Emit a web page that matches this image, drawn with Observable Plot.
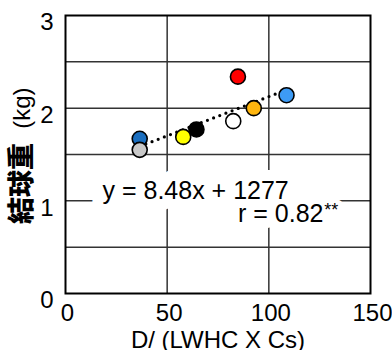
<!DOCTYPE html>
<html>
<head>
<meta charset="utf-8">
<script src="https://cdn.jsdelivr.net/npm/d3@7"></script>
<script src="https://cdn.jsdelivr.net/npm/@observablehq/plot@0.6"></script>
<style>
  html, body { margin: 0; padding: 0; background: white; }
</style>
</head>
<body>
<div id="chart"></div>
<script>
// ---- data ----
const cultivars = ["A", "B", "C", "D", "E", "F", "G", "H"];
const xValues = [36.5, 36.5, 64.4, 57.9, 82.5, 84.8, 92.6, 108.7];
const yValues = [1.67, 1.55, 1.77, 1.69, 1.86, 2.34, 2.00, 2.14];
const regSlope = 8.48;      // g per unit
const regIntercept = 1277;  // g
const eqLabel = "y = 8.48x + 1277";
const rLabel = "r = 0.82";
const sigLabel = "**";
const xTicks = [0, 50, 100, 150];
const yTicks = [0, 1, 2, 3];
const xGrid = [50, 100];
const yGrid = [0.5, 1, 1.5, 2, 2.5];
const xLabel = "D/ (LWHC X Cs)";
const yLabelMain = "結球重";
const yLabelUnit = "(kg)";

const points = cultivars.map((c, i) => ({c, x: xValues[i], y: yValues[i]}));
const xMin = d3.min(xValues), xMax = d3.max(xValues);
const regLine = [xMin, xMax].map(x => ({x, y: (regSlope * x + regIntercept) / 1000}));

const font = "Liberation Sans, Arial, sans-serif";

// annotation text marks: halo pass (white) and ink pass (black)
const eqOpts = {x: 18.2, y: 1.025, textAnchor: "start", lineAnchor: "bottom", fontSize: 25};
const rOpts = {x: 126.9, y: 0.77, textAnchor: "end", lineAnchor: "bottom", fontSize: 25};
const sigOpts = {x: 127.3, y: 0.77, dy: -6, textAnchor: "start", lineAnchor: "bottom", fontSize: 18};
const halo = {fill: "white", stroke: "white", strokeLinejoin: "round"};

const chart = Plot.plot({
  width: 392,
  height: 350,
  marginLeft: 65,
  marginRight: 22,
  marginTop: 15,
  marginBottom: 57,
  style: {fontFamily: font, fontSize: "24px", background: "white", color: "black"},
  x: {domain: [0, 150]},
  y: {domain: [0, 3]},
  color: {domain: cultivars, range: ["#1a6ebf", "#c8c8c8", "#000000", "#ffff00", "#ffffff", "#ff0000", "#ffb60f", "#3d9bf5"]},
  marks: [
    Plot.gridY(yGrid, {stroke: "#333", strokeOpacity: 1, strokeWidth: 1.5}),
    Plot.gridX(xGrid, {stroke: "#333", strokeOpacity: 1, strokeWidth: 1.5}),
    Plot.frame({stroke: "black", strokeWidth: 2}),
    Plot.axisY(yTicks, {tickSize: 0, tickPadding: 12, dy: 7, fontSize: 24, label: null, tickFormat: d => String(d)}),
    Plot.axisX(xTicks, {tickSize: 0, tickPadding: 10, dx: 2, fontSize: 24, label: null, tickFormat: d => String(d)}),
    Plot.text([xLabel], {frameAnchor: "bottom", dy: 54, fontSize: 24, fill: "black"}),
    Plot.text([yLabelUnit], {x: () => -21, y: () => 2.0, rotate: -90, fontSize: 24, fill: "black"}),
    Plot.text([yLabelMain], {x: () => -21, y: () => 1.187, rotate: -90, fontSize: 27, fontWeight: 900,
      fontFamily: "Noto Sans CJK JP, Noto Sans CJK SC, sans-serif", fill: "black"}),
    // halos
    Plot.text([eqLabel], {...eqOpts, ...halo, strokeWidth: 22}),
    Plot.text([rLabel], {...rOpts, ...halo, strokeWidth: 20}),
    Plot.text([sigLabel], {...sigOpts, ...halo, strokeWidth: 10}),
    // ink
    Plot.text([eqLabel], {...eqOpts, fill: "black"}),
    Plot.text([rLabel], {...rOpts, fill: "black"}),
    Plot.text([sigLabel], {...sigOpts, fill: "black"}),
    Plot.line(regLine, {x: "x", y: "y", stroke: "black", strokeWidth: 3.2, strokeDasharray: "0,6.6", strokeLinecap: "round"}),
    Plot.dot(points, {x: "x", y: "y", fill: "c", r: 7.5, stroke: "black", strokeWidth: 1.6})
  ]
});
document.getElementById("chart").appendChild(chart);
</script>
</body>
</html>
